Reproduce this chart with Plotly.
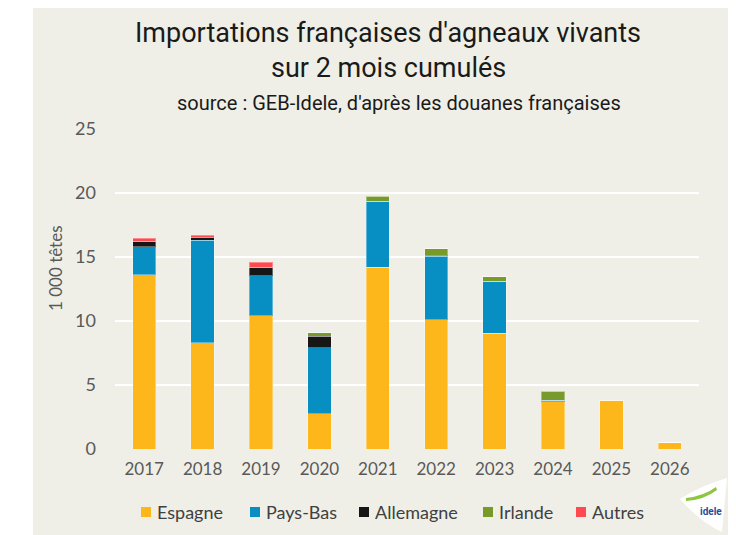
import plotly.graph_objects as go

years = ["2017", "2018", "2019", "2020", "2021", "2022", "2023", "2024", "2025", "2026"]
espagne = [13.6, 8.3, 10.4, 2.75, 14.2, 10.1, 9.05, 3.7, 3.8, 0.47]
pays_bas = [2.2, 8.0, 3.15, 5.15, 5.15, 4.95, 4.05, 0.12, 0, 0]
allemagne = [0.45, 0.2, 0.65, 0.9, 0, 0.1, 0, 0, 0, 0]
irlande = [0, 0, 0, 0.3, 0.4, 0.5, 0.35, 0.7, 0, 0]
autres = [0.2, 0.2, 0.4, 0, 0, 0, 0, 0, 0, 0]

series = [
    ("Espagne", espagne, "#FDB71A"),
    ("Pays-Bas", pays_bas, "#078FC4"),
    ("Allemagne", allemagne, "#161616"),
    ("Irlande", irlande, "#779A2B"),
    ("Autres", autres, "#FF4A4F"),
]
# legend swatch left edges (page px) from the reference layout
legend_x = [141, 250, 359, 483, 576]

OFF = 8  # page body margin
W, H = 736, 535
L = 115 - OFF
T = 129 - OFF
R = W - (699 - OFF)
B = H - (449 - OFF)
pw, ph = W - L - R, H - T - B

def px(x):
    return (x - OFF - L) / pw

def py(y):
    return (H - B - (y - OFF)) / ph

BG = "#EFEFE7"
FONT = "Lato, Noto Sans, sans-serif"
TFONT = "Roboto, Noto Sans, sans-serif"

fig = go.Figure()
for name, vals, col in series:
    fig.add_trace(go.Bar(
        x=years, y=vals, name=name, showlegend=False,
        marker=dict(color=col, line=dict(color="rgba(255,255,255,0.35)", width=1)),
    ))

shapes = [
    dict(type="rect", xref="paper", yref="paper", x0=px(33), x1=px(731), y0=py(545), y1=py(8),
         fillcolor=BG, line=dict(width=0), layer="below"),
    dict(type="path", xref="paper", yref="paper",
         path=f"M {px(680)} {py(499)} Q {px(700)} {py(486)} {px(727)} {py(478)} L {px(722)} {py(532)} Q {px(700)} {py(522)} {px(680)} {py(499)} Z",
         fillcolor="white", line=dict(width=0), layer="above"),
    dict(type="path", xref="paper", yref="paper",
         path=f"M {px(686)} {py(498)} Q {px(704)} {py(496)} {px(716)} {py(487)} L {px(717)} {py(490)} Q {px(704)} {py(500)} {px(686)} {py(501)} Z",
         fillcolor="#8DC63F", line=dict(width=0), layer="above"),
]
annotations = [
    dict(text="Importations françaises d'agneaux vivants", x=px(388), y=py(33), xref="paper", yref="paper",
         showarrow=False, font=dict(size=27, color="#1a1a1a", family=TFONT),
         xanchor="center", yanchor="middle"),
    dict(text="sur 2 mois cumulés", x=px(388), y=py(68), xref="paper", yref="paper",
         showarrow=False, font=dict(size=27, color="#1a1a1a", family=TFONT),
         xanchor="center", yanchor="middle"),
    dict(text="source : GEB-Idele, d'après les douanes françaises", x=px(399), y=py(103), xref="paper", yref="paper",
         showarrow=False, font=dict(size=20, color="#1a1a1a", family=TFONT),
         xanchor="center", yanchor="middle"),
    dict(text="1 000 têtes", x=px(55), y=py(268), xref="paper", yref="paper", textangle=-90,
         showarrow=False, font=dict(size=17, color="#595959", family=FONT),
         xanchor="center", yanchor="middle"),
    dict(text="<b>idele</b>", x=px(711), y=py(511), xref="paper", yref="paper",
         showarrow=False, font=dict(size=10, color="#1F4E9A", family="Roboto, sans-serif"),
         xanchor="center", yanchor="middle"),
]
ly = 512
for (name, vals, col), lx in zip(series, legend_x):
    shapes.append(dict(type="rect", xref="paper", yref="paper",
                       x0=px(lx), x1=px(lx + 10), y0=py(ly + 5), y1=py(ly - 5),
                       fillcolor=col, line=dict(width=0), layer="above"))
    annotations.append(dict(text=name, x=px(lx + 14), y=py(ly), xref="paper", yref="paper",
                            showarrow=False, font=dict(size=18, color="#404040", family=FONT),
                            xanchor="left", yanchor="middle"))

fig.update_layout(
    width=W, height=H,
    margin=dict(l=L, r=R, t=T, b=B, autoexpand=False),
    barmode="stack", bargap=0.6,
    paper_bgcolor="white", plot_bgcolor=BG,
    showlegend=False,
    font=dict(family=FONT, color="#595959", size=17),
    xaxis=dict(showgrid=False, zeroline=False, showline=False, ticks="", automargin=False,
               ticklabelstandoff=8, tickfont=dict(size=17, color="#595959")),
    yaxis=dict(range=[0, 25], dtick=5, showgrid=True, gridcolor="white", gridwidth=2,
               zeroline=False, showline=False, ticks="", ticklabelstandoff=18, automargin=False,
               tickfont=dict(size=18, color="#595959")),
    shapes=shapes,
    annotations=annotations,
)

fig.write_html("out.html")
